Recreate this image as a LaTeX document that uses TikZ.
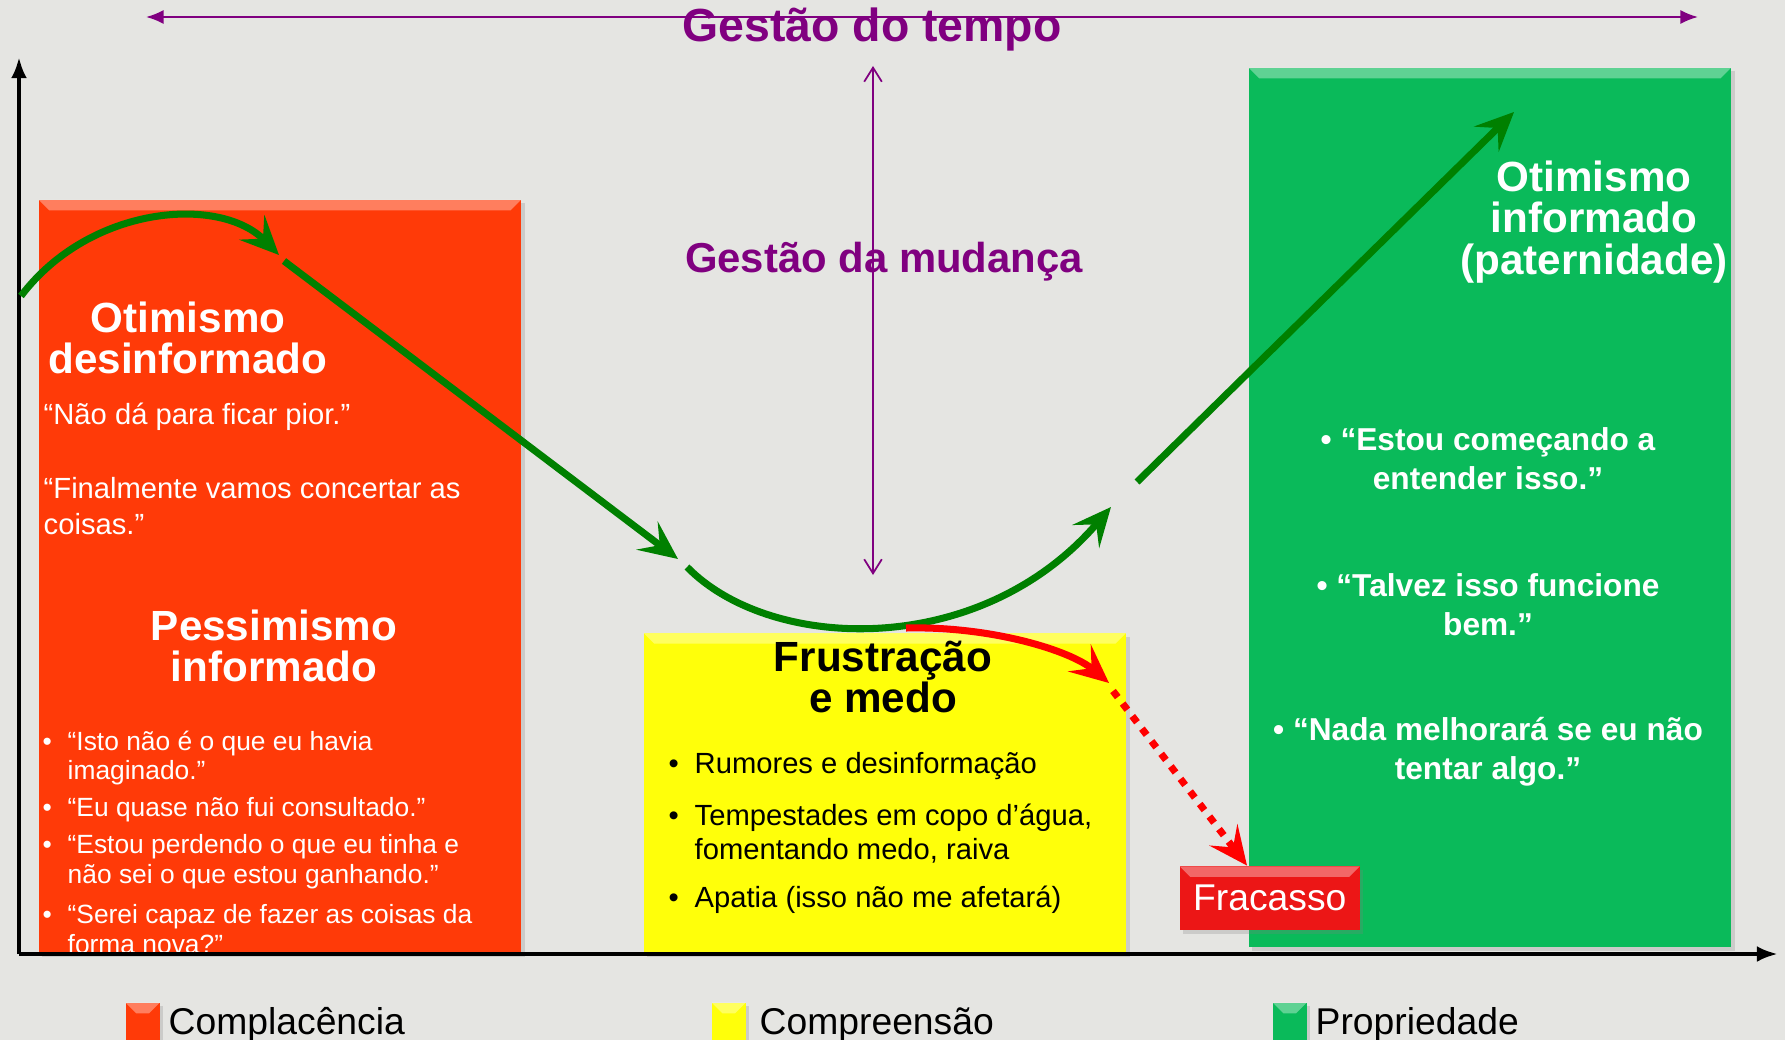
\documentclass[tikz,border=0pt]{standalone}
\usepackage{fontspec}
\setmainfont{Liberation Sans}
\usetikzlibrary{arrows.meta, positioning, shadows}
\definecolor{bgpaper}{RGB}{229,229,226}
\definecolor{cplorange}{RGB}{255,58,8}
\definecolor{cmpyellow}{RGB}{255,255,10}
\definecolor{prpgreen}{RGB}{10,186,90}
\definecolor{curvegreen}{RGB}{0,128,0}
\definecolor{tmpurple}{RGB}{128,0,128}
\definecolor{failred}{RGB}{236,22,22}
\newcommand{\ptbul}{\llap{\textbullet\hspace{4.5pt}}}

\begin{document}
\begin{tikzpicture}[x=0.01cm, y=-0.01cm,
  phase/.style={rectangle, inner sep=0pt, anchor=south west,
    drop shadow={opacity=.25, shadow xshift=1pt, shadow yshift=-1pt},
    path picture={\fill[white, opacity=.35] (path picture bounding box.north west) -- (path picture bounding box.north east)
      -- ([shift={(-3pt,-3pt)}]path picture bounding box.north east) -- ([shift={(3pt,-3pt)}]path picture bounding box.north west) -- cycle;}},
  title/.style={font=\fontsize{12}{11.7}\selectfont\bfseries, align=center, inner sep=0pt},
  quote/.style={font=\fontsize{8.3}{10}\selectfont, align=left, inner sep=0pt, anchor=west, text=white},
  opt/.style={font=\fontsize{7.5}{8.5}\selectfont, align=left, inner sep=0pt, anchor=west, text=white},
  rum/.style={font=\fontsize{8.3}{9.7}\selectfont, align=left, inner sep=0pt, anchor=west},
  own/.style={font=\fontsize{9}{11}\selectfont\bfseries, align=center, inner sep=0pt, text=white},
  legend/.style={font=\fontsize{10.6}{12}\selectfont, inner sep=0pt, anchor=base west},
  axis/.style={-{Latex[length=6pt, width=4.5pt]}, line width=1.2pt},
  trend/.style={-{Stealth[length=11pt, width=10pt, inset=4.5pt]}, line width=2pt, curvegreen},
  fail/.style={-{Stealth[length=11pt, width=10pt, inset=4.5pt]}, line width=2pt, red}
]
\useasboundingbox (0,0) rectangle (1785,1040);
\clip (0,0) rectangle (1785,1040);
\fill[bgpaper] (0,0) rectangle (1785,1040);

% phases
\node[phase, fill=cplorange, minimum width=4.82cm, minimum height=7.53cm] (cpl) at (38,954) {};
\node[phase, fill=cmpyellow, minimum width=4.82cm, minimum height=3.20cm] (cmp) at (643,954) {};
\node[phase, fill=prpgreen, minimum width=4.82cm, minimum height=8.79cm] (prp) at (1248,948) {};

% complacencia
\node[title, text=white] (od) at (188,338) {Otimismo\\desinformado};
\node[quote] (q1) at (43,417) {“Não dá para ficar pior.”};
\node[quote] (q2) at (43,506) {“Finalmente vamos concertar as\\coisas.”};
\node[title, text=white] (pi) at (274,646) {Pessimismo\\informado};
\node[opt] (b1) at (67,758) {\ptbul“Isto não é o que eu havia\\imaginado.”};
\node[opt] (b2) at (67,810) {\ptbul“Eu quase não fui consultado.”};
\node[opt] (b3) at (67,862) {\ptbul“Estou perdendo o que eu tinha e\\não sei o que estou ganhando.”};
\node[opt] (b4) at (67,929) {\ptbul“Serei capaz de fazer as coisas da\\forma nova?”};

% compreensao
\node[title] (fm) at (883,677) {Frustração\\e medo};
\node[rum] (r1) at (694,766) {\ptbul Rumores e desinformação};
\node[rum] (r2) at (694,834) {\ptbul Tempestades em copo d’água,\\fomentando medo, raiva};
\node[rum] (r3) at (694,900) {\ptbul Apatia (isso não me afetará)};

% propriedade
\node[title, text=white] (oi) at (1594,222) {Otimismo\\informado\\(paternidade)};
\node[own] (e1) at (1488,459) {• “Estou começando a\\entender isso.”};
\node[own] (e2) at (1488,605) {• “Talvez isso funcione\\bem.”};
\node[own] (e3) at (1488,752) {• “Nada melhorará se eu não\\tentar algo.”};

\node[phase, fill=failred, minimum width=1.80cm, minimum height=0.64cm, text=white,
  font=\fontsize{10.6}{12}\selectfont] (fr) at (1179,931) {Fracasso};

% axes
\coordinate (o) at (19,954);
\coordinate (ytop) at (19,57);
\coordinate (xend) at (1778,954);
\draw[axis] (o) -- (ytop);
\draw[axis] (o) -- (xend);

% time and change
\coordinate (tl) at (146,17);
\coordinate (tr) at (1698,17);
\draw[tmpurple, line width=0.6pt, {Latex[length=5pt, width=4pt]}-{Latex[length=5pt, width=4pt]}] (tl) -- (tr);
\node[font=\fontsize{13.2}{14}\selectfont\bfseries, text=tmpurple, inner sep=0pt, anchor=base] (gt) at (872,42) {Gestão do tempo};
\node[font=\fontsize{11.9}{13}\selectfont\bfseries, text=tmpurple, inner sep=0pt, anchor=base] (gm) at (884,273) {Gestão da mudança};
\coordinate (vt) at (873,66);
\coordinate (vb) at (873,575);
\draw[tmpurple, line width=0.5pt, {Straight Barb[length=4pt, width=5pt]}-{Straight Barb[length=4pt, width=5pt]}] (vt) -- (vb);

% change curve
\coordinate (a0) at (21,296);
\coordinate (a1) at (279,255);
\coordinate (a2) at (284,261);
\coordinate (a3) at (678,559);
\coordinate (a4) at (687,567);
\coordinate (a5) at (1111,507);
\coordinate (a6) at (1137,482);
\coordinate (a7) at (1514,112);
\draw[trend] (a0) .. controls (90,205) and (220,195) .. (a1);
\draw[trend] (a2) -- (a3);
\draw[trend] (a4) .. controls (770,652) and (980,660) .. (a5);
\draw[trend] (a6) -- (a7);

% failure
\coordinate (f0) at (906,628);
\coordinate (f1) at (1109,683);
\coordinate (f2) at (1113,691);
\draw[fail] (f0) .. controls (990,626) and (1070,650) .. (f1);
\draw[fail, dash pattern=on 2.2pt off 2.3pt] (f2) -- (fr.north east -| 1247,0);

% legend
\node[phase, fill=cplorange, minimum width=0.34cm, minimum height=0.5cm, anchor=north west] (lgA) at (125,1002) {};
\node[legend] (ltA) at (168,1034) {Complacência};
\node[phase, fill=cmpyellow, minimum width=0.34cm, minimum height=0.5cm, anchor=north west] (lgB) at (711,1002) {};
\node[legend] (ltB) at (759,1034) {Compreensão};
\node[phase, fill=prpgreen, minimum width=0.34cm, minimum height=0.5cm, anchor=north west] (lgC) at (1272,1002) {};
\node[legend] (ltC) at (1315,1034) {Propriedade};
\end{tikzpicture}
\end{document}
